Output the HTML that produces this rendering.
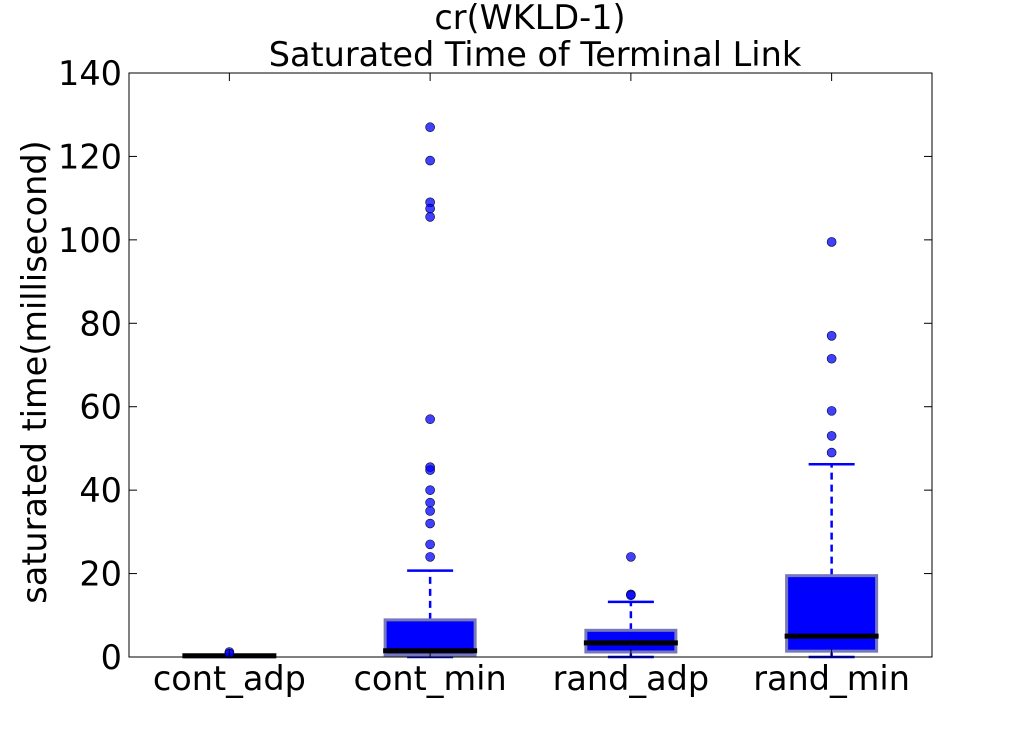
<!DOCTYPE html>
<html><head><meta charset="utf-8"><style>
body{margin:0;background:#fff;}
svg text{font-family:"DejaVu Sans","Liberation Sans",sans-serif;fill:#000;}
</style></head><body>
<svg id="chart" width="1035" height="730" xmlns="http://www.w3.org/2000/svg">
<text x="530" y="29" font-size="33.5" text-anchor="middle">cr(WKLD-1)</text>
<text x="535" y="66" font-size="33.5" text-anchor="middle">Saturated Time of Terminal Link</text>
<text transform="translate(46,372) rotate(-90)" font-size="33.5" text-anchor="middle">saturated time(millisecond)</text>
<g id="plot"></g>
</svg>
<script>
const categories=["cont_adp","cont_min","rand_adp","rand_min"];
const q1=[0,0.5,1.2,1.4];
const medians=[0.3,1.5,3.4,5];
const q3=[0.3,8.9,6.4,19.5];
const whiskLow=[0,0,0,0];
const whiskHigh=[0.3,20.7,13.2,46.2];
const outliers=[[1.2,0.8],[127,119,109,107.5,105.5,57,45.5,44.8,40,37,35,32,27,24],[24,15,14.8],[99.5,77,71.5,59,53,49]];
const yTicks=[0,20,40,60,80,100,120,140];

const L=129,R=932,T=73,B=657,ymax=140;
const ns="http://www.w3.org/2000/svg";
const g=document.getElementById('plot');
const y=v=>B-(v/ymax)*(B-T);
const step=(R-L)/categories.length;
const x=i=>L+step*(i+0.5);
function mk(t,a){const e=document.createElementNS(ns,t);for(const k in a)e.setAttribute(k,a[k]);g.appendChild(e);return e;}
const bw=90,cw=46;
categories.forEach((c,i)=>{
  const cx=x(i);
  let e=mk('line',{x1:cx,x2:cx,y1:y(q3[i]),y2:y(whiskHigh[i]),stroke:'#0000ff','stroke-width':2.5,'stroke-dasharray':'7,5'});
  
  e=mk('line',{x1:cx,x2:cx,y1:y(q1[i]),y2:y(whiskLow[i]),stroke:'#0000ff','stroke-width':2.5,'stroke-dasharray':'7,5'});
  
  e=mk('line',{x1:cx-cw/2,x2:cx+cw/2,y1:y(whiskHigh[i]),y2:y(whiskHigh[i]),stroke:'#0000ff','stroke-width':2.5});
  
  e=mk('line',{x1:cx-cw/2,x2:cx+cw/2,y1:y(whiskLow[i]),y2:y(whiskLow[i]),stroke:'#0000ff','stroke-width':2.5});
  
  e=mk('rect',{x:cx-bw/2,y:y(q3[i]),width:bw,height:Math.max(0.5,y(q1[i])-y(q3[i])),fill:'#0000ff',stroke:'#7777bb','stroke-width':3});
  
  e=mk('line',{x1:cx-bw/2-2,x2:cx+bw/2+2,y1:y(medians[i]),y2:y(medians[i]),stroke:'#000','stroke-width':5});
  
  outliers[i].forEach(v=>{
    const o=mk('circle',{cx:cx,cy:y(v),r:4.5,fill:'#0000ff','fill-opacity':0.75,stroke:'#000033','stroke-width':0.6});
    
  });
  const t=mk('text',{x:cx,y:B+33,'font-size':33.5,'text-anchor':'middle'});t.textContent=c;
  
});
yTicks.forEach(v=>{
  let e=mk('line',{x1:L,x2:L+8,y1:y(v),y2:y(v),stroke:'#000','stroke-width':1});
  
  e=mk('line',{x1:R-8,x2:R,y1:y(v),y2:y(v),stroke:'#000','stroke-width':1});
  
  const t=mk('text',{x:L-7,y:y(v)+12,'font-size':33.5,'text-anchor':'end'});t.textContent=v;
  
});
categories.forEach((c,i)=>{
  let e=mk('line',{x1:x(i),x2:x(i),y1:B,y2:B-8,stroke:'#000','stroke-width':1});
  
  e=mk('line',{x1:x(i),x2:x(i),y1:T,y2:T+8,stroke:'#000','stroke-width':1});
  
});
const fr=mk('rect',{x:L,y:T,width:R-L,height:B-T,fill:'none',stroke:'#000','stroke-width':1});


</script>
</body></html>
